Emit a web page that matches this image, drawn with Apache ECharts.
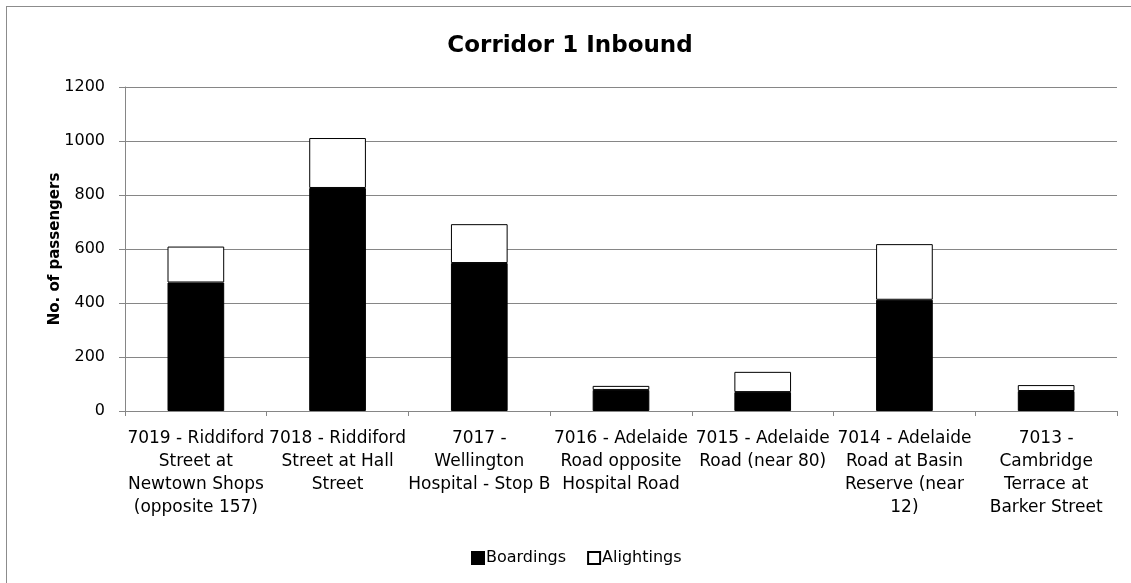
<!DOCTYPE html>
<html>
<head>
<meta charset="utf-8">
<script src="https://cdn.jsdelivr.net/npm/echarts@6/dist/echarts.min.js"></script>
<style>
html,body{margin:0;padding:0;background:#fff;}
#frame{position:absolute;left:6px;top:6px;width:1140px;height:600px;border:1px solid #8c8c8c;box-sizing:border-box;}
#chart{position:absolute;left:0;top:0;width:1131px;height:583px;}
</style>
</head>
<body>
<div id="frame"></div>
<div id="chart"></div>
<script>
const titleText = "Corridor 1 Inbound";
const yAxisName = "No. of passengers";
const categories = [
  "7019 - Riddiford\nStreet at\nNewtown Shops\n(opposite 157)",
  "7018 - Riddiford\nStreet at Hall\nStreet",
  "7017 -\nWellington\nHospital - Stop B",
  "7016 - Adelaide\nRoad opposite\nHospital Road",
  "7015 - Adelaide\nRoad (near 80)",
  "7014 - Adelaide\nRoad at Basin\nReserve (near\n12)",
  "7013 -\nCambridge\nTerrace at\nBarker Street"
];
const boardings = [476, 826, 548, 78, 70, 412, 74];
const alightings = [133, 185, 144, 15, 75, 206, 22];
const seriesNames = ["Boardings", "Alightings"];

const font = "'DejaVu Sans', sans-serif";
const chart = echarts.init(document.getElementById('chart'), null, {renderer: 'canvas'});
chart.setOption({
  animation: false,
  backgroundColor: 'transparent',
  title: {
    text: titleText,
    left: 565, top: 30, textAlign: 'center',
    textStyle: {fontFamily: font, fontWeight: 'bold', fontSize: 23, color: '#000'}
  },
  legend: {
    data: seriesNames,
    left: 466, top: 545,
    itemWidth: 12, itemHeight: 12, itemGap: 21,
    icon: 'rect',
    textStyle: {fontFamily: font, fontSize: 16, color: '#000', padding: [0,0,0,-3]}
  },
  grid: {left: 125, right: 14, top: 87, bottom: 172, containLabel: false},
  xAxis: {
    type: 'category',
    data: categories,
    axisLine: {lineStyle: {color: '#868686', width: 1}},
    axisTick: {show: true, length: 5, lineStyle: {color: '#868686'}},
    axisLabel: {fontFamily: font, fontSize: 17, color: '#000', lineHeight: 23, margin: 16, interval: 0}
  },
  yAxis: {
    type: 'value',
    min: 0, max: 1200, interval: 200,
    name: yAxisName,
    nameLocation: 'middle',
    nameGap: 62,
    nameMoveOverlap: false,
    nameTextStyle: {fontFamily: font, fontWeight: 'bold', fontSize: 15, color: '#000'},
    axisLine: {show: true, lineStyle: {color: '#868686'}},
    axisTick: {show: true, length: 6, lineStyle: {color: '#868686'}},
    splitLine: {lineStyle: {color: '#868686', width: 1}},
    axisLabel: {fontFamily: font, fontSize: 16, color: '#000', margin: 20, formatter: function (v) { return String(v); }}
  },
  series: [
    {
      name: seriesNames[0], type: 'bar', stack: 'total', data: boardings,
      barCategoryGap: '60%',
      itemStyle: {color: '#000', borderColor: '#000', borderWidth: 1}
    },
    {
      name: seriesNames[1], type: 'bar', stack: 'total', data: alightings,
      barCategoryGap: '60%',
      itemStyle: {color: '#fff', borderColor: '#000', borderWidth: 1}
    }
  ]
});
</script>
</body>
</html>
